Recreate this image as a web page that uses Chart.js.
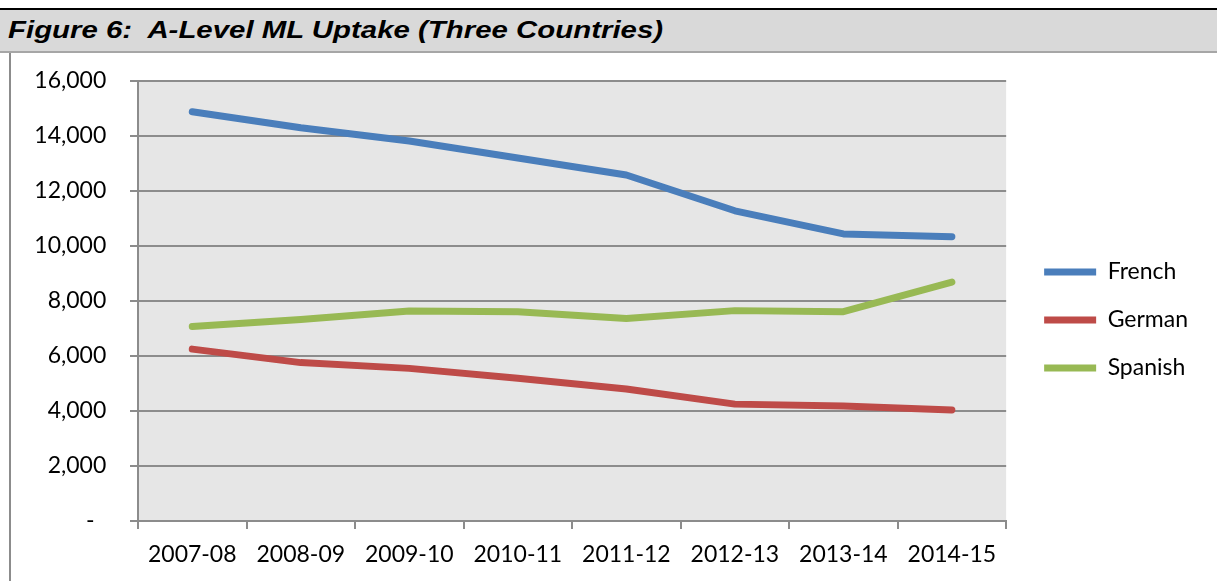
<!DOCTYPE html>
<html>
<head>
<meta charset="utf-8">
<script src="https://cdn.jsdelivr.net/npm/chart.js@4.4.1/dist/chart.umd.min.js"></script>
<style>
    html, body { margin: 0; padding: 0; background: #fff; width: 1217px; height: 581px; overflow: hidden; }
    #topLine { position: absolute; left: 0; top: 8px; width: 1217px; height: 2px; background: #000; }
    #titleBar {
        position: absolute; left: 0; top: 10px; width: 1217px; height: 41px;
        background: #d9d9d9; border-bottom: 2px solid #a6a6a6;
    }
    #titleBar span {
        position: absolute; left: 8px; top: 6px;
        font: italic bold 24px "Liberation Sans", Arial, sans-serif;
        color: #000; white-space: pre;
        transform: scaleX(1.225); transform-origin: left center;
    }
    #frame {
        position: absolute; left: 9px; top: 53px; width: 1206px; height: 528px;
        border-left: 2px solid #8c8c8c;
    }
</style>
</head>
<body>
<div id="topLine"></div>
<div id="titleBar"><span>Figure 6:  A-Level ML Uptake (Three Countries)</span></div>
<div id="frame"><canvas id="uptakeChart" width="1206" height="528"></canvas></div>

<script>
// ============================================
// A-LEVEL ML UPTAKE
// ============================================

const years = ['2007-08', '2008-09', '2009-10', '2010-11', '2011-12', '2012-13', '2013-14', '2014-15'];
const french = [14880, 14300, 13820, 13200, 12580, 11280, 10440, 10340];
const german = [6250, 5760, 5550, 5190, 4800, 4250, 4180, 4040];
const spanish = [7070, 7330, 7640, 7610, 7360, 7650, 7610, 8690];
const yTicks = [0, 2000, 4000, 6000, 8000, 10000, 12000, 14000, 16000];

const gridColor = '#8c8c8c';
const labelFont = { family: 'Lato', size: 23 };

// Grey plot area
const plotBg = {
    id: 'plotBg',
    beforeDraw(chart) {
        const a = chart.chartArea;
        const ctx = chart.ctx;
        ctx.save();
        ctx.fillStyle = '#e6e6e6';
        ctx.fillRect(a.left, a.top, a.right - a.left, a.bottom - a.top);
        ctx.restore();
    }
};

// Nudge the legend into place
const legendShift = {
    id: 'legendShift',
    afterLayout(chart) {
        const lg = chart.legend;
        const dx = 13, dy = -11;
        lg.left += dx; lg.right += dx;
        lg.top += dy; lg.bottom += dy;
    }
};

function makeSet(label, data, color) {
    return {
        label: label,
        data: data,
        borderColor: color,
        backgroundColor: color,
        borderWidth: 7,
        borderCapStyle: 'round',
        borderJoinStyle: 'round',
        pointRadius: 0,
        pointHoverRadius: 0,
        tension: 0,
        fill: false
    };
}

new Chart(document.getElementById('uptakeChart'), {
    type: 'line',
    data: {
        labels: years,
        datasets: [
            makeSet('French', french, '#4a7ebb'),
            makeSet('German', german, '#be4b48'),
            makeSet('Spanish', spanish, '#98b954')
        ]
    },
    options: {
        responsive: false,
        animation: false,
        layout: { padding: { top: 28, left: 0, right: 32, bottom: 0 } },
        plugins: {
            legend: {
                position: 'right',
                labels: {
                    usePointStyle: true,
                    pointStyle: 'line',
                    pointStyleWidth: 52,
                    padding: 25,
                    color: '#000',
                    font: labelFont
                }
            },
            tooltip: { enabled: false }
        },
        scales: {
            x: {
                offset: true,
                grid: {
                    offset: true,
                    drawOnChartArea: false,
                    color: gridColor,
                    lineWidth: 2,
                    tickLength: 8
                },
                border: { color: gridColor, width: 2 },
                ticks: { color: '#000', font: labelFont, padding: 12, maxRotation: 0 },
                afterFit(scale) { scale.height = 60; }
            },
            y: {
                min: 0,
                max: 16000,
                afterBuildTicks(scale) { scale.ticks = yTicks.map(v => ({ value: v })); },
                grid: { color: gridColor, lineWidth: 2, tickLength: 8 },
                border: { color: gridColor, width: 2 },
                ticks: {
                    color: '#000',
                    font: labelFont,
                    padding: 12,
                    callback: function(value) {
                        // trailing spaces keep the labels clear of the tick marks
                        return value === 0 ? '-    ' : value.toLocaleString('en-US') + '  ';
                    }
                },
                afterFit(scale) { scale.width = 127; }
            }
        }
    },
    plugins: [plotBg, legendShift]
});
</script>
</body>
</html>
